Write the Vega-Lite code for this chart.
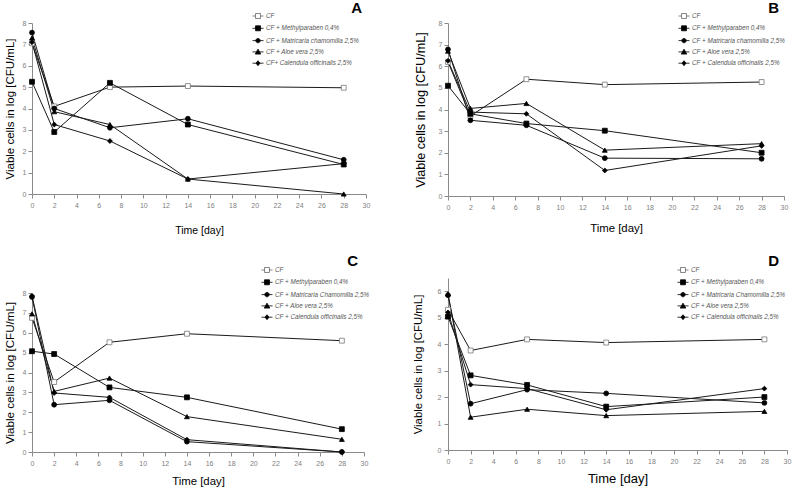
{
  "$schema": "https://vega.github.io/schema/vega-lite/v6.json",
  "padding": {"left": 4, "top": 1, "right": 3, "bottom": 0},
  "background": "white",
  "datasets": {
    "A": [
      {"series": "CF", "day": 0, "value": 7.05}, {"series": "CF", "day": 2, "value": 4.1}, {"series": "CF", "day": 7, "value": 5.0}, {"series": "CF", "day": 14, "value": 5.05}, {"series": "CF", "day": 28, "value": 4.97},
      {"series": "CF + Methylparaben 0,4%", "day": 0, "value": 5.25}, {"series": "CF + Methylparaben 0,4%", "day": 2, "value": 2.9}, {"series": "CF + Methylparaben 0,4%", "day": 7, "value": 5.2}, {"series": "CF + Methylparaben 0,4%", "day": 14, "value": 3.25}, {"series": "CF + Methylparaben 0,4%", "day": 28, "value": 1.38},
      {"series": "CF + Matricaria chamomilla 2,5%", "day": 0, "value": 7.55}, {"series": "CF + Matricaria chamomilla 2,5%", "day": 2, "value": 4.0}, {"series": "CF + Matricaria chamomilla 2,5%", "day": 7, "value": 3.1}, {"series": "CF + Matricaria chamomilla 2,5%", "day": 14, "value": 3.52}, {"series": "CF + Matricaria chamomilla 2,5%", "day": 28, "value": 1.6},
      {"series": "CF + Aloe vera 2,5%", "day": 0, "value": 7.3}, {"series": "CF + Aloe vera 2,5%", "day": 2, "value": 3.85}, {"series": "CF + Aloe vera 2,5%", "day": 7, "value": 3.25}, {"series": "CF + Aloe vera 2,5%", "day": 14, "value": 0.7}, {"series": "CF + Aloe vera 2,5%", "day": 28, "value": 0},
      {"series": "CF+ Calendula officinalis 2,5%", "day": 0, "value": 7.1}, {"series": "CF+ Calendula officinalis 2,5%", "day": 2, "value": 3.25}, {"series": "CF+ Calendula officinalis 2,5%", "day": 7, "value": 2.48}, {"series": "CF+ Calendula officinalis 2,5%", "day": 14, "value": 0.7}, {"series": "CF+ Calendula officinalis 2,5%", "day": 28, "value": 1.42}
    ],
    "B": [
      {"series": "CF", "day": 0, "value": 6.2}, {"series": "CF", "day": 2, "value": 3.7}, {"series": "CF", "day": 7, "value": 5.4}, {"series": "CF", "day": 14, "value": 5.15}, {"series": "CF", "day": 28, "value": 5.27},
      {"series": "CF + Methylparaben 0,4%", "day": 0, "value": 5.1}, {"series": "CF + Methylparaben 0,4%", "day": 2, "value": 3.8}, {"series": "CF + Methylparaben 0,4%", "day": 7, "value": 3.35}, {"series": "CF + Methylparaben 0,4%", "day": 14, "value": 3.02}, {"series": "CF + Methylparaben 0,4%", "day": 28, "value": 2.0},
      {"series": "CF + Matricaria chamomilla 2,5%", "day": 0, "value": 6.78}, {"series": "CF + Matricaria chamomilla 2,5%", "day": 2, "value": 3.5}, {"series": "CF + Matricaria chamomilla 2,5%", "day": 7, "value": 3.27}, {"series": "CF + Matricaria chamomilla 2,5%", "day": 14, "value": 1.75}, {"series": "CF + Matricaria chamomilla 2,5%", "day": 28, "value": 1.72},
      {"series": "CF + Aloe vera 2,5%", "day": 0, "value": 6.7}, {"series": "CF + Aloe vera 2,5%", "day": 2, "value": 4.05}, {"series": "CF + Aloe vera 2,5%", "day": 7, "value": 4.28}, {"series": "CF + Aloe vera 2,5%", "day": 14, "value": 2.12}, {"series": "CF + Aloe vera 2,5%", "day": 28, "value": 2.42},
      {"series": "CF + Calendula officinalis 2,5%", "day": 0, "value": 6.25}, {"series": "CF + Calendula officinalis 2,5%", "day": 2, "value": 3.88}, {"series": "CF + Calendula officinalis 2,5%", "day": 7, "value": 3.8}, {"series": "CF + Calendula officinalis 2,5%", "day": 14, "value": 1.18}, {"series": "CF + Calendula officinalis 2,5%", "day": 28, "value": 2.32}
    ],
    "C": [
      {"series": "CF", "day": 0, "value": 6.75}, {"series": "CF", "day": 2, "value": 3.52}, {"series": "CF", "day": 7, "value": 5.52}, {"series": "CF", "day": 14, "value": 5.95}, {"series": "CF", "day": 28, "value": 5.6},
      {"series": "CF + Methylparaben 0,4%", "day": 0, "value": 5.07}, {"series": "CF + Methylparaben 0,4%", "day": 2, "value": 4.93}, {"series": "CF + Methylparaben 0,4%", "day": 7, "value": 3.25}, {"series": "CF + Methylparaben 0,4%", "day": 14, "value": 2.75}, {"series": "CF + Methylparaben 0,4%", "day": 28, "value": 1.15},
      {"series": "CF + Matricaria Chamomilla 2,5%", "day": 0, "value": 7.8}, {"series": "CF + Matricaria Chamomilla 2,5%", "day": 2, "value": 2.38}, {"series": "CF + Matricaria Chamomilla 2,5%", "day": 7, "value": 2.6}, {"series": "CF + Matricaria Chamomilla 2,5%", "day": 14, "value": 0.52}, {"series": "CF + Matricaria Chamomilla 2,5%", "day": 28, "value": 0},
      {"series": "CF + Aloe vera 2,5%", "day": 0, "value": 6.95}, {"series": "CF + Aloe vera 2,5%", "day": 2, "value": 3.05}, {"series": "CF + Aloe vera 2,5%", "day": 7, "value": 3.72}, {"series": "CF + Aloe vera 2,5%", "day": 14, "value": 1.78}, {"series": "CF + Aloe vera 2,5%", "day": 28, "value": 0.64},
      {"series": "CF + Calendula officinalis 2,5%", "day": 0, "value": 7.85}, {"series": "CF + Calendula officinalis 2,5%", "day": 2, "value": 2.97}, {"series": "CF + Calendula officinalis 2,5%", "day": 7, "value": 2.75}, {"series": "CF + Calendula officinalis 2,5%", "day": 14, "value": 0.62}, {"series": "CF + Calendula officinalis 2,5%", "day": 28, "value": 0}
    ],
    "D": [
      {"series": "CF", "day": 0, "value": 5.3}, {"series": "CF", "day": 2, "value": 3.76}, {"series": "CF", "day": 7, "value": 4.18}, {"series": "CF", "day": 14, "value": 4.06}, {"series": "CF", "day": 28, "value": 4.18},
      {"series": "CF + Methylparaben 0,4%", "day": 0, "value": 5.04}, {"series": "CF + Methylparaben 0,4%", "day": 2, "value": 2.82}, {"series": "CF + Methylparaben 0,4%", "day": 7, "value": 2.46}, {"series": "CF + Methylparaben 0,4%", "day": 14, "value": 1.64}, {"series": "CF + Methylparaben 0,4%", "day": 28, "value": 2.0},
      {"series": "CF + Matricaria Chamomilla 2,5%", "day": 0, "value": 5.85}, {"series": "CF + Matricaria Chamomilla 2,5%", "day": 2, "value": 1.75}, {"series": "CF + Matricaria Chamomilla 2,5%", "day": 7, "value": 2.28}, {"series": "CF + Matricaria Chamomilla 2,5%", "day": 14, "value": 2.14}, {"series": "CF + Matricaria Chamomilla 2,5%", "day": 28, "value": 1.78},
      {"series": "CF + Aloe vera 2,5%", "day": 0, "value": 5.9}, {"series": "CF + Aloe vera 2,5%", "day": 2, "value": 1.24}, {"series": "CF + Aloe vera 2,5%", "day": 7, "value": 1.54}, {"series": "CF + Aloe vera 2,5%", "day": 14, "value": 1.3}, {"series": "CF + Aloe vera 2,5%", "day": 28, "value": 1.46},
      {"series": "CF + Calendula officinalis 2,5%", "day": 0, "value": 5.2}, {"series": "CF + Calendula officinalis 2,5%", "day": 2, "value": 2.47}, {"series": "CF + Calendula officinalis 2,5%", "day": 7, "value": 2.32}, {"series": "CF + Calendula officinalis 2,5%", "day": 14, "value": 1.52}, {"series": "CF + Calendula officinalis 2,5%", "day": 28, "value": 2.32}
    ]
  },
  "config": {
    "view": {"stroke": null},
    "axis": {"grid": false, "domainColor": "#8a8a8a", "tickColor": "#8a8a8a", "labelColor": "#808080", "labelFont": "Liberation Sans", "labelFontSize": 7, "titleFont": "Liberation Sans", "titleFontWeight": "normal", "titleColor": "#000000", "tickSize": 4, "labelFlush": false, "labelOverlap": false, "domainWidth": 1, "tickWidth": 1},
    "title": {"font": "Liberation Sans", "fontSize": 15, "fontWeight": "bold", "anchor": "end", "frame": "group", "color": "#000000"},
    "legend": {"labelFont": "Liberation Sans", "labelFontStyle": "italic", "labelFontSize": 6.3, "labelColor": "#555555", "rowPadding": 1.3, "labelOffset": 2, "padding": 0, "symbolStrokeWidth": 1, "symbolSize": 121, "symbolOpacity": 1, "offset": 0},
    "point": {"size": 24, "filled": true, "opacity": 1, "strokeWidth": 0.8},
    "line": {"color": "#1a1a1a", "strokeWidth": 1}
  },
  "spacing": 42,
  "resolve": {"scale": {"shape": "independent", "fill": "independent", "stroke": "independent"}, "legend": {"shape": "independent", "fill": "independent", "stroke": "independent"}},
  "hconcat": [
    {
      "columns": 1,
      "spacing": 18,
      "align": "none",
      "resolve": {"scale": {"shape": "independent", "fill": "independent", "stroke": "independent"}, "legend": {"shape": "independent", "fill": "independent", "stroke": "independent"}},
      "concat": [
        {
          "width": 334, "height": 171,
          "title": {"text": "A", "offset": -6, "dx": -4, "frame": "group"},
          "data": {"name": "A"},
          "encoding": {
            "x": {"field": "day", "type": "quantitative", "scale": {"domain": [0, 30], "nice": false}, "axis": {"values": [0, 2, 4, 6, 8, 10, 12, 14, 16, 18, 20, 22, 24, 26, 28, 30], "title": "Time [day]", "titleFontSize": 10.5, "titlePadding": 17, "labelPadding": 3}},
            "y": {"field": "value", "type": "quantitative", "scale": {"domain": [0, 8], "nice": false}, "axis": {"values": [0, 1, 2, 3, 4, 5, 6, 7, 8], "title": "Viable cells in log [CFU/mL]", "titleFontSize": 11.5, "titlePadding": 7, "labelPadding": 2}}
          },
          "resolve": {"scale": {"shape": "independent", "fill": "independent", "stroke": "independent"}, "legend": {"shape": "independent", "fill": "independent", "stroke": "independent"}},
          "layer": [
            {"mark": "line", "encoding": {"detail": {"field": "series"}}},
            {"mark": "point", "encoding": {
              "shape": {"field": "series", "type": "nominal", "legend": null, "scale": {"domain": ["CF", "CF + Methylparaben 0,4%", "CF + Matricaria chamomilla 2,5%", "CF + Aloe vera 2,5%", "CF+ Calendula officinalis 2,5%"], "range": ["square", "square", "circle", "triangle-up", "diamond"]}},
              "fill": {"field": "series", "type": "nominal", "legend": null, "scale": {"domain": ["CF", "CF + Methylparaben 0,4%", "CF + Matricaria chamomilla 2,5%", "CF + Aloe vera 2,5%", "CF+ Calendula officinalis 2,5%"], "range": ["white", "black", "black", "black", "black"]}},
              "stroke": {"field": "series", "type": "nominal", "legend": null, "scale": {"domain": ["CF", "CF + Methylparaben 0,4%", "CF + Matricaria chamomilla 2,5%", "CF + Aloe vera 2,5%", "CF+ Calendula officinalis 2,5%"], "range": ["#777777", "black", "black", "black", "black"]}}}},
            {"mark": {"type": "point", "opacity": 0, "filled": true}, "encoding": {
              "shape": {"field": "series", "type": "nominal", "scale": {"domain": ["CF", "CF + Methylparaben 0,4%", "CF + Matricaria chamomilla 2,5%", "CF + Aloe vera 2,5%", "CF+ Calendula officinalis 2,5%"], "range": ["M-1,0H-0.45M0.45,0H1M-0.45,-0.45H0.45V0.45H-0.45Z", "M-1,0H1M-0.45,-0.45H0.45V0.45H-0.45Z", "M-1,0H1M0.4,0A0.4,0.4,0,1,1,-0.4,0A0.4,0.4,0,1,1,0.4,0Z", "M-1,0H1M0,-0.5L0.5,0.4H-0.5Z", "M-1,0H1M0,-0.45L0.36,0L0,0.45L-0.36,0Z"]}, "legend": {"orient": "none", "legendX": 220, "legendY": -13, "title": null, "symbolOpacity": 1}},
              "fill": {"field": "series", "type": "nominal", "scale": {"domain": ["CF", "CF + Methylparaben 0,4%", "CF + Matricaria chamomilla 2,5%", "CF + Aloe vera 2,5%", "CF+ Calendula officinalis 2,5%"], "range": ["white", "black", "black", "black", "black"]}, "legend": {"orient": "none", "legendX": 220, "legendY": -13, "title": null, "symbolOpacity": 1}},
              "stroke": {"field": "series", "type": "nominal", "scale": {"domain": ["CF", "CF + Methylparaben 0,4%", "CF + Matricaria chamomilla 2,5%", "CF + Aloe vera 2,5%", "CF+ Calendula officinalis 2,5%"], "range": ["#666666", "black", "black", "black", "black"]}, "legend": {"orient": "none", "legendX": 220, "legendY": -13, "title": null, "symbolOpacity": 1}}}}
          ]
        },
        {
          "width": 332, "height": 159,
          "title": {"text": "C", "offset": -5, "dx": -6, "frame": "group"},
          "data": {"name": "C"},
          "encoding": {
            "x": {"field": "day", "type": "quantitative", "scale": {"domain": [0, 30], "nice": false}, "axis": {"values": [0, 2, 4, 6, 8, 10, 12, 14, 16, 18, 20, 22, 24, 26, 28, 30], "title": "Time [day]", "titleFontSize": 11.4, "titlePadding": 9, "labelPadding": 3}},
            "y": {"field": "value", "type": "quantitative", "scale": {"domain": [0, 8], "nice": false}, "axis": {"values": [0, 1, 2, 3, 4, 5, 6, 7, 8], "title": "Viable cells in log [CFU/mL]", "titleFontSize": 11.6, "titlePadding": 7, "labelPadding": 2}}
          },
          "resolve": {"scale": {"shape": "independent", "fill": "independent", "stroke": "independent"}, "legend": {"shape": "independent", "fill": "independent", "stroke": "independent"}},
          "layer": [
            {"mark": "line", "encoding": {"detail": {"field": "series"}}},
            {"mark": "point", "encoding": {
              "shape": {"field": "series", "type": "nominal", "legend": null, "scale": {"domain": ["CF", "CF + Methylparaben 0,4%", "CF + Matricaria Chamomilla 2,5%", "CF + Aloe vera 2,5%", "CF + Calendula officinalis 2,5%"], "range": ["square", "square", "circle", "triangle-up", "diamond"]}},
              "fill": {"field": "series", "type": "nominal", "legend": null, "scale": {"domain": ["CF", "CF + Methylparaben 0,4%", "CF + Matricaria Chamomilla 2,5%", "CF + Aloe vera 2,5%", "CF + Calendula officinalis 2,5%"], "range": ["white", "black", "black", "black", "black"]}},
              "stroke": {"field": "series", "type": "nominal", "legend": null, "scale": {"domain": ["CF", "CF + Methylparaben 0,4%", "CF + Matricaria Chamomilla 2,5%", "CF + Aloe vera 2,5%", "CF + Calendula officinalis 2,5%"], "range": ["#777777", "black", "black", "black", "black"]}}}},
            {"mark": {"type": "point", "opacity": 0, "filled": true}, "encoding": {
              "shape": {"field": "series", "type": "nominal", "scale": {"domain": ["CF", "CF + Methylparaben 0,4%", "CF + Matricaria Chamomilla 2,5%", "CF + Aloe vera 2,5%", "CF + Calendula officinalis 2,5%"], "range": ["M-1,0H-0.45M0.45,0H1M-0.45,-0.45H0.45V0.45H-0.45Z", "M-1,0H1M-0.45,-0.45H0.45V0.45H-0.45Z", "M-1,0H1M0.4,0A0.4,0.4,0,1,1,-0.4,0A0.4,0.4,0,1,1,0.4,0Z", "M-1,0H1M0,-0.5L0.5,0.4H-0.5Z", "M-1,0H1M0,-0.45L0.36,0L0,0.45L-0.36,0Z"]}, "legend": {"orient": "none", "legendX": 229, "legendY": -29, "title": null, "symbolOpacity": 1}},
              "fill": {"field": "series", "type": "nominal", "scale": {"domain": ["CF", "CF + Methylparaben 0,4%", "CF + Matricaria Chamomilla 2,5%", "CF + Aloe vera 2,5%", "CF + Calendula officinalis 2,5%"], "range": ["white", "black", "black", "black", "black"]}, "legend": {"orient": "none", "legendX": 229, "legendY": -29, "title": null, "symbolOpacity": 1}},
              "stroke": {"field": "series", "type": "nominal", "scale": {"domain": ["CF", "CF + Methylparaben 0,4%", "CF + Matricaria Chamomilla 2,5%", "CF + Aloe vera 2,5%", "CF + Calendula officinalis 2,5%"], "range": ["#666666", "black", "black", "black", "black"]}, "legend": {"orient": "none", "legendX": 229, "legendY": -29, "title": null, "symbolOpacity": 1}}}}
          ]
        }
      ]
    },
    {
      "columns": 1,
      "spacing": 20,
      "align": "none",
      "resolve": {"scale": {"shape": "independent", "fill": "independent", "stroke": "independent"}, "legend": {"shape": "independent", "fill": "independent", "stroke": "independent"}},
      "concat": [
        {
          "width": 336, "height": 173,
          "title": {"text": "B", "offset": -6, "dx": -5, "frame": "group"},
          "data": {"name": "B"},
          "encoding": {
            "x": {"field": "day", "type": "quantitative", "scale": {"domain": [0, 30], "nice": false}, "axis": {"values": [0, 2, 4, 6, 8, 10, 12, 14, 16, 18, 20, 22, 24, 26, 28, 30], "title": "Time [day]", "titleFontSize": 11.4, "titlePadding": 12, "labelPadding": 3}},
            "y": {"field": "value", "type": "quantitative", "scale": {"domain": [0, 8], "nice": false}, "axis": {"values": [0, 1, 2, 3, 4, 5, 6, 7, 8], "title": "Viable cells in log [CFU/mL]", "titleFontSize": 12.7, "titlePadding": 11, "labelPadding": 2}}
          },
          "resolve": {"scale": {"shape": "independent", "fill": "independent", "stroke": "independent"}, "legend": {"shape": "independent", "fill": "independent", "stroke": "independent"}},
          "layer": [
            {"mark": "line", "encoding": {"detail": {"field": "series"}}},
            {"mark": "point", "encoding": {
              "shape": {"field": "series", "type": "nominal", "legend": null, "scale": {"domain": ["CF", "CF + Methylparaben 0,4%", "CF + Matricaria chamomilla 2,5%", "CF + Aloe vera 2,5%", "CF + Calendula officinalis 2,5%"], "range": ["square", "square", "circle", "triangle-up", "diamond"]}},
              "fill": {"field": "series", "type": "nominal", "legend": null, "scale": {"domain": ["CF", "CF + Methylparaben 0,4%", "CF + Matricaria chamomilla 2,5%", "CF + Aloe vera 2,5%", "CF + Calendula officinalis 2,5%"], "range": ["white", "black", "black", "black", "black"]}},
              "stroke": {"field": "series", "type": "nominal", "legend": null, "scale": {"domain": ["CF", "CF + Methylparaben 0,4%", "CF + Matricaria chamomilla 2,5%", "CF + Aloe vera 2,5%", "CF + Calendula officinalis 2,5%"], "range": ["#777777", "black", "black", "black", "black"]}}}},
            {"mark": {"type": "point", "opacity": 0, "filled": true}, "encoding": {
              "shape": {"field": "series", "type": "nominal", "scale": {"domain": ["CF", "CF + Methylparaben 0,4%", "CF + Matricaria chamomilla 2,5%", "CF + Aloe vera 2,5%", "CF + Calendula officinalis 2,5%"], "range": ["M-1,0H-0.45M0.45,0H1M-0.45,-0.45H0.45V0.45H-0.45Z", "M-1,0H1M-0.45,-0.45H0.45V0.45H-0.45Z", "M-1,0H1M0.4,0A0.4,0.4,0,1,1,-0.4,0A0.4,0.4,0,1,1,0.4,0Z", "M-1,0H1M0,-0.5L0.5,0.4H-0.5Z", "M-1,0H1M0,-0.45L0.36,0L0,0.45L-0.36,0Z"]}, "legend": {"orient": "none", "legendX": 230, "legendY": -13, "title": null, "symbolOpacity": 1}},
              "fill": {"field": "series", "type": "nominal", "scale": {"domain": ["CF", "CF + Methylparaben 0,4%", "CF + Matricaria chamomilla 2,5%", "CF + Aloe vera 2,5%", "CF + Calendula officinalis 2,5%"], "range": ["white", "black", "black", "black", "black"]}, "legend": {"orient": "none", "legendX": 230, "legendY": -13, "title": null, "symbolOpacity": 1}},
              "stroke": {"field": "series", "type": "nominal", "scale": {"domain": ["CF", "CF + Methylparaben 0,4%", "CF + Matricaria chamomilla 2,5%", "CF + Aloe vera 2,5%", "CF + Calendula officinalis 2,5%"], "range": ["#666666", "black", "black", "black", "black"]}, "legend": {"orient": "none", "legendX": 230, "legendY": -13, "title": null, "symbolOpacity": 1}}}}
          ]
        },
        {
          "width": 339, "height": 172,
          "title": {"text": "D", "offset": -5, "dx": -8, "frame": "group"},
          "data": {"name": "D"},
          "encoding": {
            "x": {"field": "day", "type": "quantitative", "scale": {"domain": [0, 30], "nice": false}, "axis": {"values": [0, 2, 4, 6, 8, 10, 12, 14, 16, 18, 20, 22, 24, 26, 28, 30], "title": "Time [day]", "titleFontSize": 13, "titlePadding": 8, "labelPadding": 3}},
            "y": {"field": "value", "type": "quantitative", "scale": {"domain": [0, 6.5], "nice": false}, "axis": {"values": [0, 1, 2, 3, 4, 5, 6], "title": "Viable cells in log [CFU/mL]", "titleFontSize": 11.4, "titlePadding": 14, "labelPadding": 3}}
          },
          "resolve": {"scale": {"shape": "independent", "fill": "independent", "stroke": "independent"}, "legend": {"shape": "independent", "fill": "independent", "stroke": "independent"}},
          "layer": [
            {"mark": "line", "encoding": {"detail": {"field": "series"}}},
            {"mark": "point", "encoding": {
              "shape": {"field": "series", "type": "nominal", "legend": null, "scale": {"domain": ["CF", "CF + Methylparaben 0,4%", "CF + Matricaria Chamomilla 2,5%", "CF + Aloe vera 2,5%", "CF + Calendula officinalis 2,5%"], "range": ["square", "square", "circle", "triangle-up", "diamond"]}},
              "fill": {"field": "series", "type": "nominal", "legend": null, "scale": {"domain": ["CF", "CF + Methylparaben 0,4%", "CF + Matricaria Chamomilla 2,5%", "CF + Aloe vera 2,5%", "CF + Calendula officinalis 2,5%"], "range": ["white", "black", "black", "black", "black"]}},
              "stroke": {"field": "series", "type": "nominal", "legend": null, "scale": {"domain": ["CF", "CF + Methylparaben 0,4%", "CF + Matricaria Chamomilla 2,5%", "CF + Aloe vera 2,5%", "CF + Calendula officinalis 2,5%"], "range": ["#777777", "black", "black", "black", "black"]}}}},
            {"mark": {"type": "point", "opacity": 0, "filled": true}, "encoding": {
              "shape": {"field": "series", "type": "nominal", "scale": {"domain": ["CF", "CF + Methylparaben 0,4%", "CF + Matricaria Chamomilla 2,5%", "CF + Aloe vera 2,5%", "CF + Calendula officinalis 2,5%"], "range": ["M-1,0H-0.45M0.45,0H1M-0.45,-0.45H0.45V0.45H-0.45Z", "M-1,0H1M-0.45,-0.45H0.45V0.45H-0.45Z", "M-1,0H1M0.4,0A0.4,0.4,0,1,1,-0.4,0A0.4,0.4,0,1,1,0.4,0Z", "M-1,0H1M0,-0.5L0.5,0.4H-0.5Z", "M-1,0H1M0,-0.45L0.36,0L0,0.45L-0.36,0Z"]}, "legend": {"orient": "none", "legendX": 229, "legendY": -14, "title": null, "symbolOpacity": 1}},
              "fill": {"field": "series", "type": "nominal", "scale": {"domain": ["CF", "CF + Methylparaben 0,4%", "CF + Matricaria Chamomilla 2,5%", "CF + Aloe vera 2,5%", "CF + Calendula officinalis 2,5%"], "range": ["white", "black", "black", "black", "black"]}, "legend": {"orient": "none", "legendX": 229, "legendY": -14, "title": null, "symbolOpacity": 1}},
              "stroke": {"field": "series", "type": "nominal", "scale": {"domain": ["CF", "CF + Methylparaben 0,4%", "CF + Matricaria Chamomilla 2,5%", "CF + Aloe vera 2,5%", "CF + Calendula officinalis 2,5%"], "range": ["#666666", "black", "black", "black", "black"]}, "legend": {"orient": "none", "legendX": 229, "legendY": -14, "title": null, "symbolOpacity": 1}}}}
          ]
        }
      ]
    }
  ]
}
